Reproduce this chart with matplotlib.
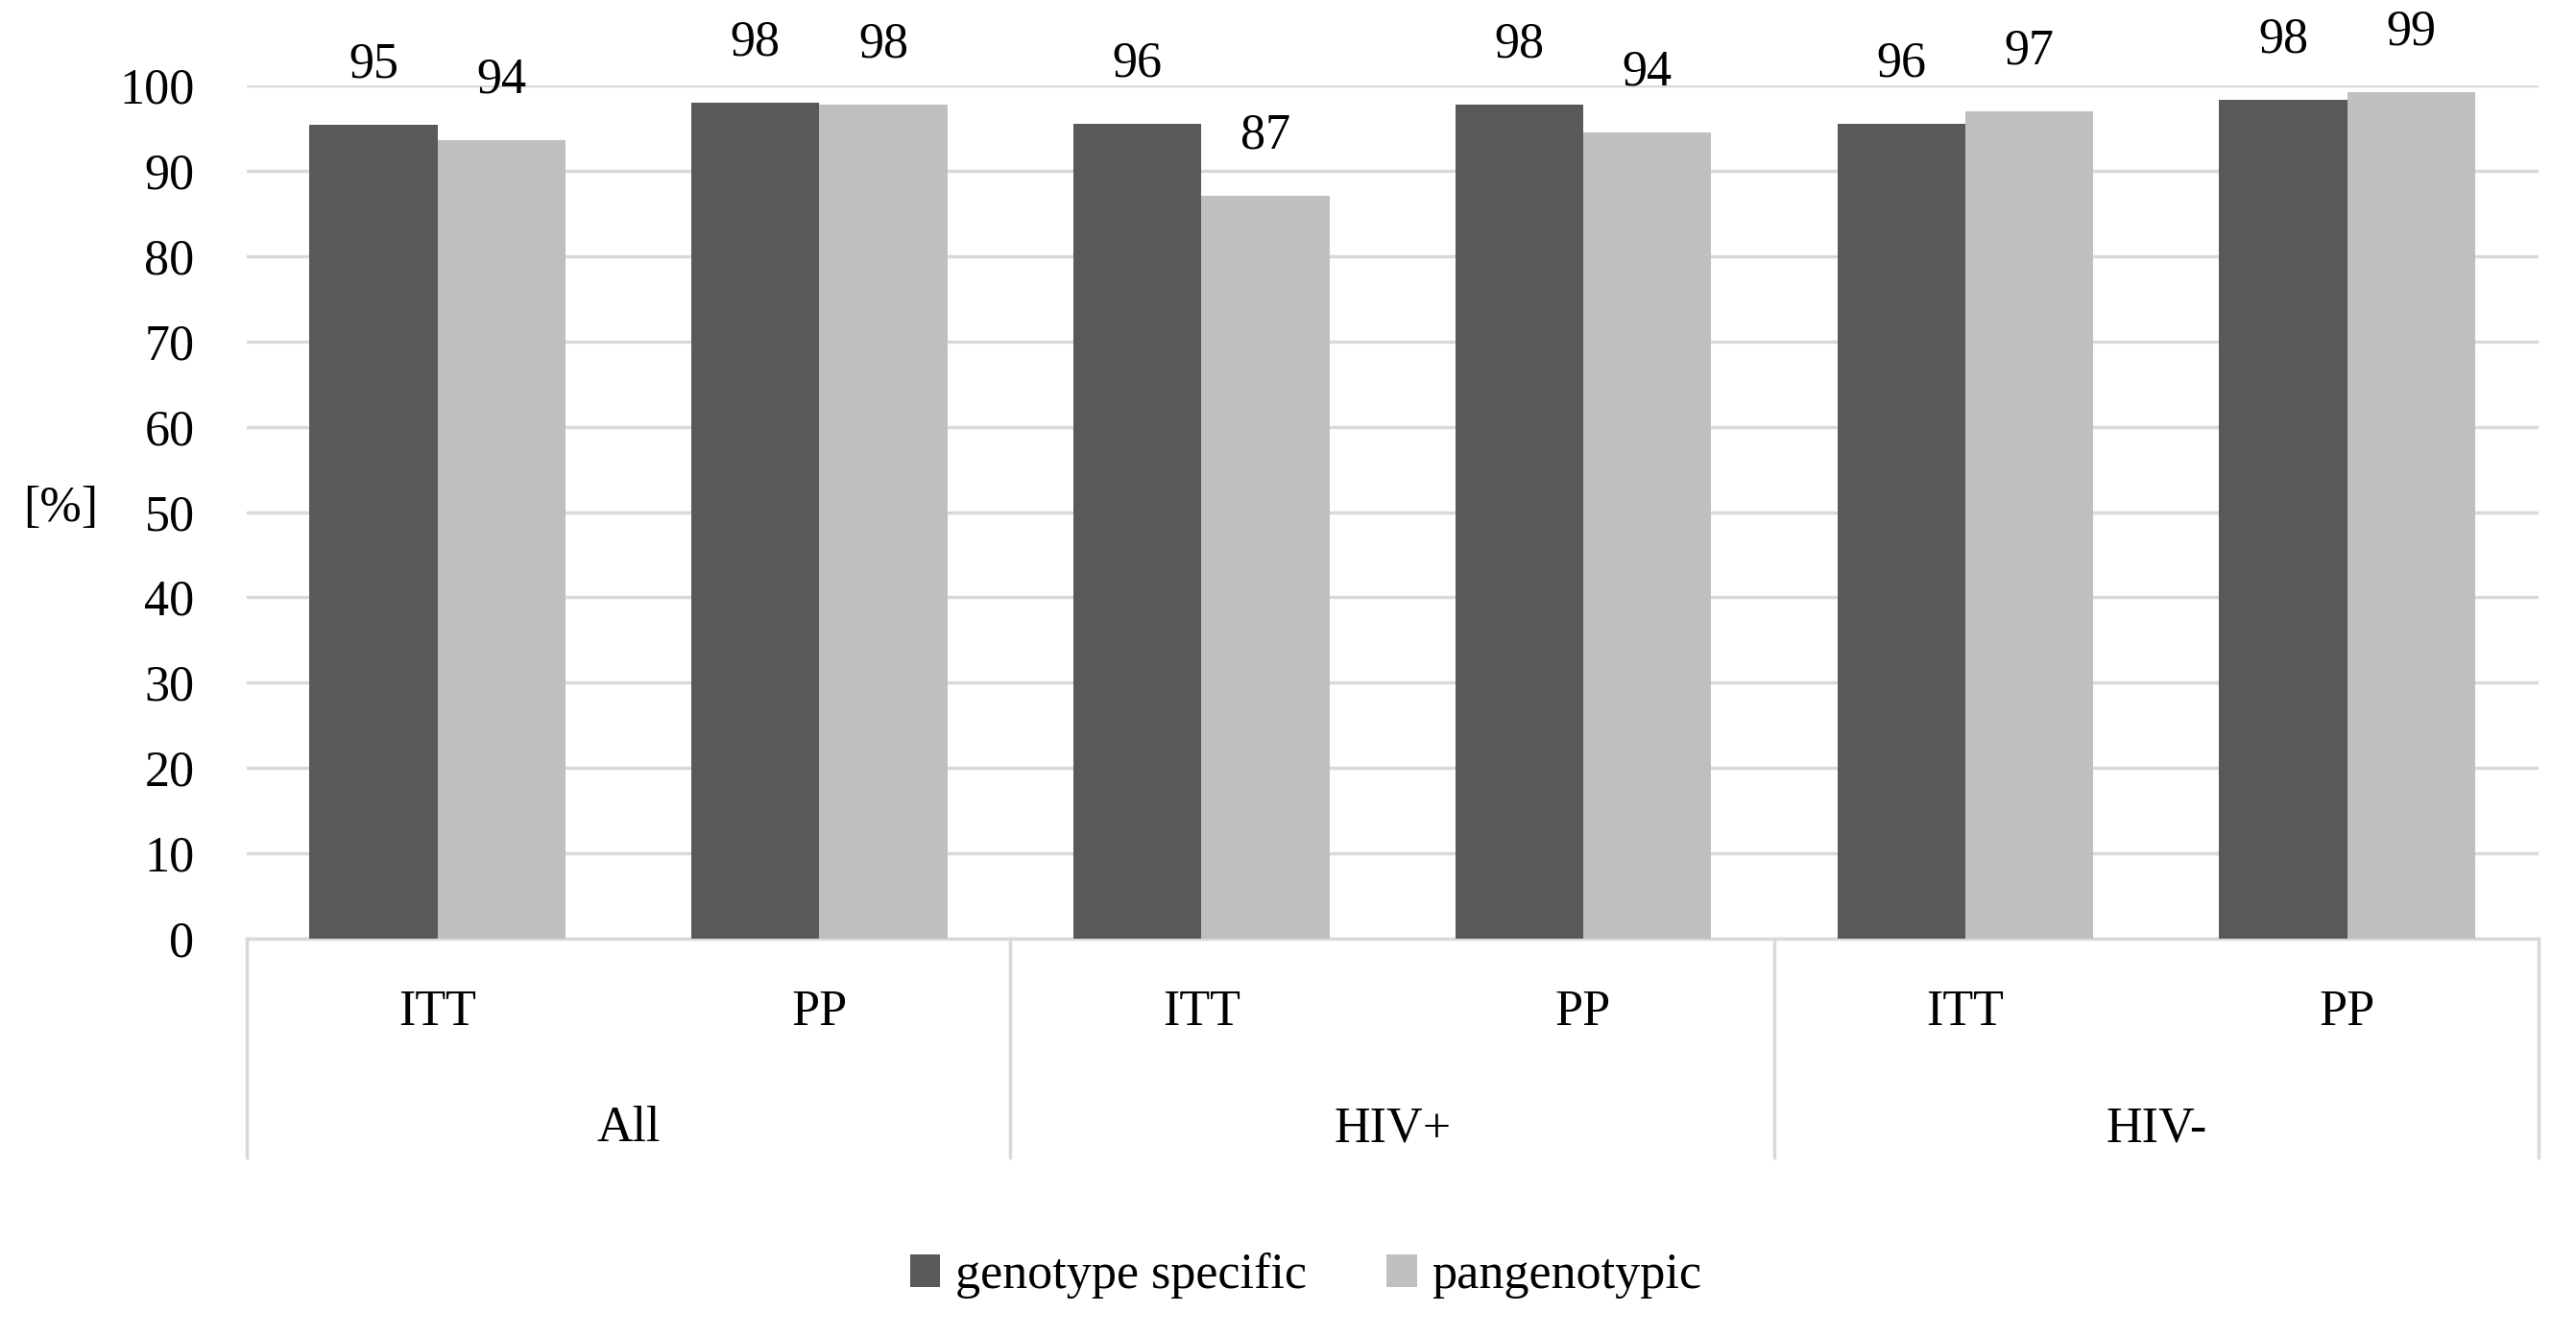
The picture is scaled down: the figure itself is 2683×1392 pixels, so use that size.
import matplotlib
matplotlib.use("Agg")
from matplotlib import pyplot as plt
from matplotlib import transforms
import numpy as np

groups = ["All", "HIV+", "HIV-"]
subcats = ["ITT", "PP", "ITT", "PP", "ITT", "PP"]
series_names = ["genotype specific", "pangenotypic"]

geno = [95.4, 98.0, 95.5, 97.7, 95.5, 98.3]
pang = [93.6, 97.7, 87.1, 94.5, 97.0, 99.2]
geno_labels = ["95", "98", "96", "98", "96", "98"]
pang_labels = ["94", "98", "87", "94", "97", "99"]

yticks = [0, 10, 20, 30, 40, 50, 60, 70, 80, 90, 100]

dark = "#595959"
light = "#bfbfbf"
gridc = "#d9d9d9"

plt.rcParams['font.family'] = ['Liberation Serif', 'DejaVu Serif']
fs = 37.5

fig = plt.figure(figsize=(26.83, 13.92), dpi=100, facecolor='w')
ax = fig.add_axes([0.0957, 0.2973, 0.9853 - 0.0957, 0.9361 - 0.2973])

x = np.arange(len(subcats))
w = 0.335
b1 = ax.bar(x - w / 2, geno, w, color=dark, label=series_names[0], zorder=3)
b2 = ax.bar(x + w / 2, pang, w, color=light, label=series_names[1], zorder=3)

for bars, labs in [(b1, geno_labels), (b2, pang_labels)]:
    for r, t in zip(bars, labs):
        ax.annotate(t, (r.get_x() + r.get_width() / 2, r.get_height()),
                    xytext=(0, 45), textcoords='offset points',
                    ha='center', va='center', fontsize=fs, annotation_clip=False)

ax.set_xlim(-0.5, len(subcats) - 0.5)
ax.set_ylim(0, 100)
ax.set_yticks(yticks)
ax.tick_params(axis='y', length=0, pad=39, labelsize=fs)
ax.set_xticks([])
for s in ax.spines.values():
    s.set_visible(False)
ax.yaxis.grid(True, color=gridc, linewidth=2.5, zorder=0)
ax.set_axisbelow(True)

# hierarchical category axis
tr = transforms.blended_transform_factory(ax.transData, ax.transAxes)
ax.plot([-0.5, len(subcats) - 0.5], [0, 0], transform=tr, color=gridc,
        linewidth=2.5, clip_on=False, zorder=2)
for xs in [-0.5, 1.5, 3.5, 5.5]:
    ax.plot([xs, xs], [0, -0.256], transform=tr, color=gridc, linewidth=2.5,
            clip_on=False)
for i, s in enumerate(subcats):
    ax.text(i, -0.0865, s, transform=tr, ha='center', va='center', fontsize=fs)
for g, name in enumerate(groups):
    ax.text(2 * g + 0.5, -0.223, name, transform=tr, ha='center', va='center',
            fontsize=fs)

fig.text(0.0236, 0.619, "[%]", ha='center', va='center', fontsize=fs)

fig.legend(loc='center', bbox_to_anchor=(0.507, 0.045), ncol=2, frameon=False,
           fontsize=fs, handlelength=0.6, handleheight=0.6, handletextpad=0.3,
           columnspacing=1.6)

fig.savefig("out.png", dpi=100)
